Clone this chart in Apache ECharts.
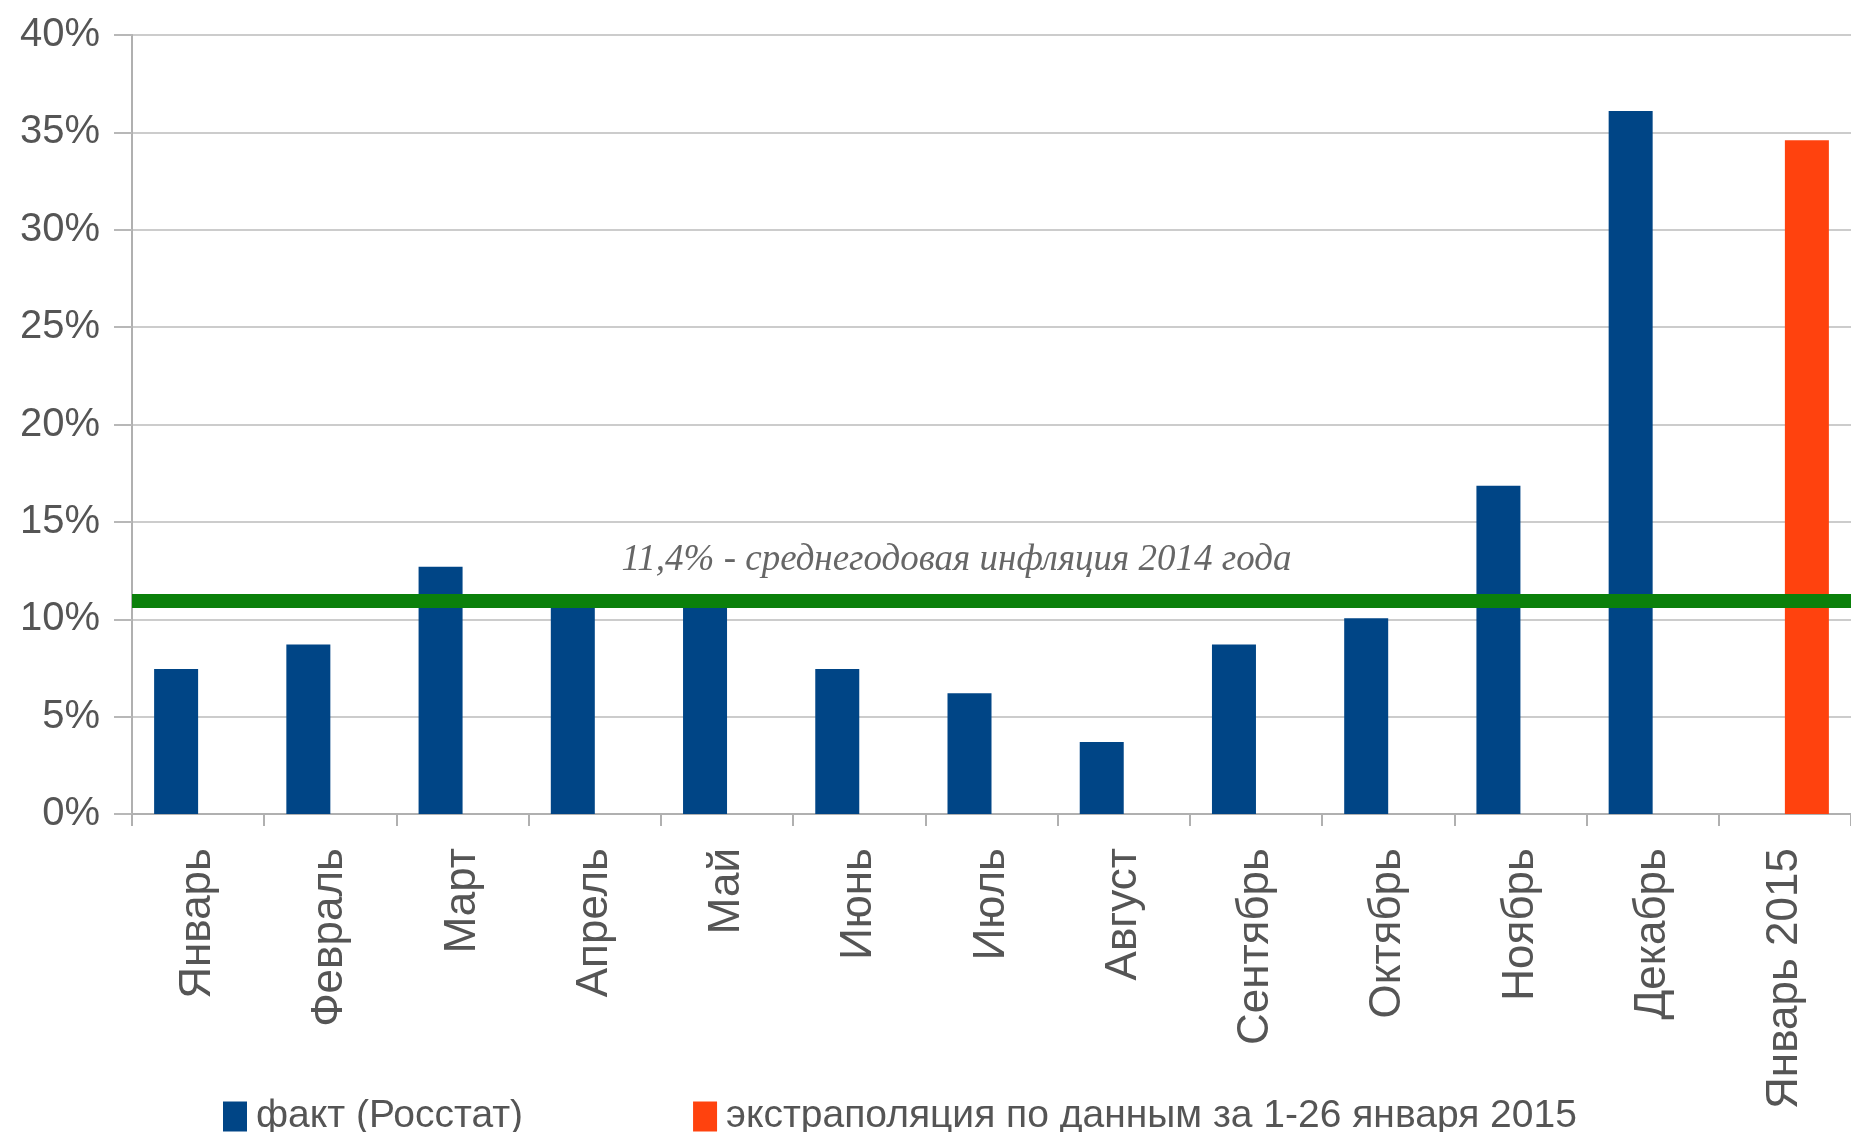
<!DOCTYPE html>
<html>
<head>
<meta charset="utf-8">
<script src="https://cdn.jsdelivr.net/npm/echarts@6/dist/echarts.min.js"></script>
<style>
html,body{margin:0;padding:0;background:#fff;}
#chart{width:1851px;height:1132px;}
</style>
</head>
<body>
<div id="chart"></div>
<script>
var categories = ['Январь','Февраль','Март','Апрель','Май','Июнь','Июль','Август','Сентябрь','Октябрь','Ноябрь','Декабрь','Январь 2015'];
var factValues = [7.45, 8.7, 12.7, 11.2, 11.1, 7.45, 6.2, 3.7, 8.7, 10.05, 16.85, 36.1, null];
var extrapValues = [null, null, null, null, null, null, null, null, null, null, null, null, 34.6];
var averageInflation = 10.95;
var averageLabel = '11,4% - среднегодовая инфляция 2014 года';
var seriesNames = ['факт (Росстат)', 'экстраполяция по данным за 1-26 января 2015'];
var yTicks = [0, 5, 10, 15, 20, 25, 30, 35, 40];

var sans = "'Liberation Sans', Arial, sans-serif";
var chart = echarts.init(document.getElementById('chart'), null, {renderer: 'canvas'});
chart.setOption({
  animation: false,
  backgroundColor: '#ffffff',
  grid: {left: 132, right: 0, top: 35, bottom: 318, containLabel: false},
  legend: {
    left: 218, top: 1092,
    itemWidth: 24, itemHeight: 30, itemGap: 170,
    icon: 'rect',
    textStyle: {fontFamily: sans, fontSize: 39, color: '#555555', padding: [0,0,0,4]},
    data: seriesNames
  },
  xAxis: {
    type: 'category',
    data: categories,
    axisLine: {lineStyle: {color: '#b0b0b0', width: 2}},
    axisTick: {show: true, length: 12, lineStyle: {color: '#b0b0b0', width: 2}},
    axisLabel: {rotate: 90, margin: 34, fontFamily: sans, fontSize: 44, color: '#555555', interval: 0}
  },
  yAxis: {
    type: 'value',
    min: yTicks[0], max: yTicks[yTicks.length-1], interval: 5,
    axisLine: {show: true, lineStyle: {color: '#b0b0b0', width: 2}},
    axisTick: {show: true, length: 18, lineStyle: {color: '#b8b8b8', width: 2}},
    splitLine: {lineStyle: {color: '#cccccc', width: 2}},
    axisLabel: {margin: 32, fontFamily: sans, fontSize: 40, color: '#555555', formatter: '{value}%'}
  },
  series: [
    {
      name: seriesNames[0], type: 'bar', data: factValues,
      barWidth: 44, barGap: '0%',
      itemStyle: {color: '#004586'},
      markLine: {
        silent: true, symbol: 'none',
        lineStyle: {color: '#0b800b', width: 14, type: 'solid'},
        label: {
          show: true, position: 'insideMiddleTop', distance: 22, offset: [-35, 0],
          formatter: averageLabel,
          fontFamily: "'Liberation Serif', 'Times New Roman', serif", fontStyle: 'italic',
          fontSize: 37, color: '#666666'
        },
        data: [{yAxis: averageInflation}]
      }
    },
    {
      name: seriesNames[1], type: 'bar', data: extrapValues,
      barWidth: 44, barGap: '0%',
      itemStyle: {color: '#ff420e'}
    }
  ]
});
</script>
</body>
</html>
